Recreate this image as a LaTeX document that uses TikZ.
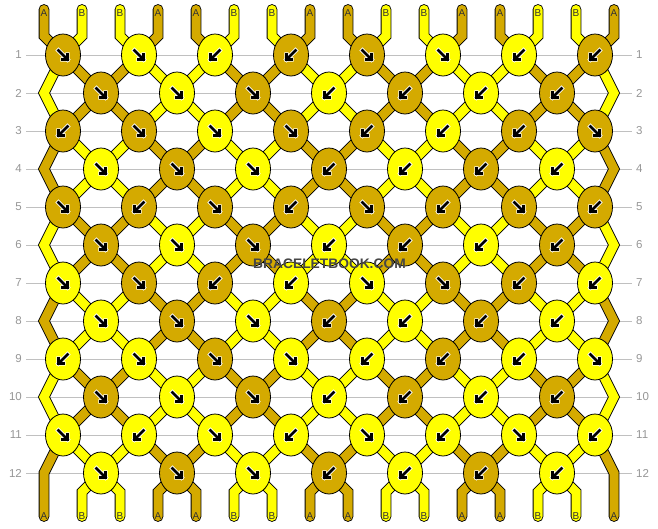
\documentclass[tikz,border=0pt]{standalone}
\usepackage{fontspec}
\setmainfont{Liberation Sans}
\usetikzlibrary{shapes.geometric}
\definecolor{colA}{RGB}{212,170,0}
\definecolor{colB}{RGB}{255,255,0}
\definecolor{numgray}{RGB}{150,150,150}
\definecolor{linegray}{RGB}{192,192,192}
\definecolor{logogray}{RGB}{70,70,70}
\def\fwd{(-4.5,-4.5) -- (4.5,4.5) (4.5,-0.5) -- (4.5,4.5) -- (-0.5,4.5)}

\begin{document}
\begin{tikzpicture}[x=1pt, y=-1pt,
  knot/.style={ellipse, draw=black, line width=0.8, minimum width=35, minimum height=42, inner sep=0},
  strand/.style={draw=black, double=#1, line width=0.9, double distance=9, line cap=round, line join=miter},
  arrowmark/.style={draw=white, double=black, line width=0.9, double distance=2.6, line cap=rect, line join=miter},
  se/.style={}, sw/.style={xscale=-1},
  tag/.style={font=\fontsize{10}{10}\selectfont, text=black!80, inner sep=0},
  rowno/.style={font=\fontsize{11.5}{12}\selectfont, text=numgray, inner sep=4},
  gridline/.style={linegray, line width=1}]
\useasboundingbox (0,0) rectangle (658,528);

% row numbers and guide lines
\foreach \rw in {1,...,12} {
  \node[rowno, anchor=east] (l\rw) at (26, 17+38*\rw) {\rw};
  \node[rowno, anchor=west] (r\rw) at (632, 17+38*\rw) {\rw};
  \draw[gridline] (l\rw) -- (r\rw);
}

% strands
\foreach \st/\cl in {1/A,2/B,3/B,4/A,5/A,6/B,7/B,8/A,9/A,10/B,11/B,12/A,13/A,14/B,15/B,16/A} {
  \pgfmathtruncatemacro\vo{mod(\st,2)==1 ? \st-1 : 32-\st}
  \coordinate (s\st-t) at (6+38*\st, 9.5);
  \coordinate (s\st-0) at (6+38*\st, 36);
  \foreach \rw in {1,...,12} {
    \pgfmathtruncatemacro\vv{mod(\vo+\rw,32)}
    \pgfmathtruncatemacro\pp{\vv<16 ? \vv+1 : 32-\vv}
    \pgfmathtruncatemacro\off{(mod(\rw,2)==0 && (\pp==1 || \pp==16)) ? 0 : (mod(\pp+\rw,2)==0 ? 19 : -19)}
    \coordinate (s\st-\rw) at (6+38*\pp+\off, 17+38*\rw);
  }
  \pgfmathtruncatemacro\vv{mod(\vo+12,32)}
  \pgfmathtruncatemacro\pp{\vv<16 ? \vv+1 : 32-\vv}
  \coordinate (s\st-13) at (6+38*\pp, 492);
  \coordinate (s\st-e) at (6+38*\pp, 516.5);
  \draw[strand=col\cl] (s\st-t) \foreach \rw in {0,...,13} { -- (s\st-\rw) } -- (s\st-e);
  \node[tag] (top\st) at (6+38*\st, 13) {\cl};
  \node[tag] (bot\st) at (s\st-e) {\cl};
}

% knots
\foreach \row [count=\rw] in {
  {A/se,B/se,B/sw,A/sw,A/se,B/se,B/sw,A/sw},
  {A/se,B/se,A/se,B/sw,A/sw,B/sw,A/sw},
  {A/sw,A/se,B/se,A/se,A/sw,B/sw,A/sw,A/se},
  {B/se,A/se,B/se,A/sw,B/sw,A/sw,B/sw},
  {A/se,A/sw,A/se,A/sw,A/se,A/sw,A/se,A/sw},
  {A/se,B/se,A/se,B/sw,A/sw,B/sw,A/sw},
  {B/se,A/se,A/sw,B/sw,B/se,A/se,A/sw,B/sw},
  {B/se,A/se,B/se,A/sw,B/sw,A/sw,B/sw},
  {B/sw,B/se,A/se,B/se,B/sw,A/sw,B/sw,B/se},
  {A/se,B/se,A/se,B/sw,A/sw,B/sw,A/sw},
  {B/se,B/sw,B/se,B/sw,B/se,B/sw,B/se,B/sw},
  {B/se,A/se,B/se,A/sw,B/sw,A/sw,B/sw}} {
  \foreach \cl/\dr [count=\kn] in \row {
    \pgfmathsetmacro\kx{mod(\rw,2)==1 ? 76*\kn-13 : 76*\kn+25}
    \node[knot, fill=col\cl] (k\rw-\kn) at (\kx, 17+38*\rw) {};
    \draw[arrowmark, shift={(k\rw-\kn.center)}, \dr] \fwd;
  }
}

\node[font=\bfseries\fontsize{13.8}{14}\selectfont, text=logogray] (logo) at (329.5, 263.5) {BRACELETBOOK.COM};
\end{tikzpicture}
\end{document}
